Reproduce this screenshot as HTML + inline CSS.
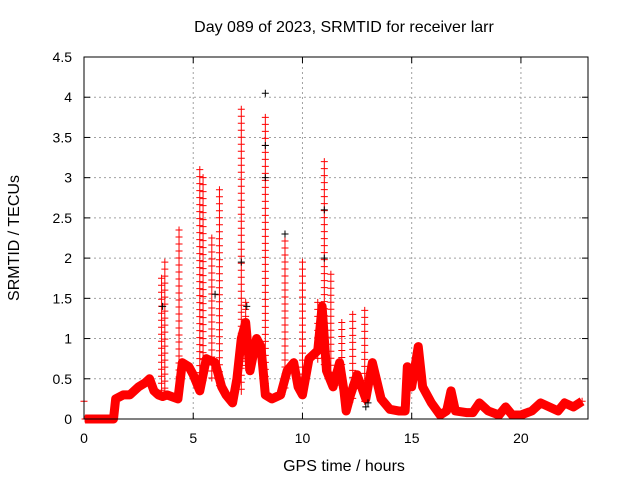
<!DOCTYPE html>
<html><head><meta charset="utf-8"><style>
body{margin:0;background:#fff}
svg{display:block;font-family:"Liberation Sans",sans-serif}
</style></head><body>
<svg id="chart" width="640" height="480">
<text x="344" y="32" font-size="16" text-anchor="middle">Day 089 of 2023, SRMTID for receiver larr</text>
<text x="344" y="471" font-size="16" text-anchor="middle">GPS time / hours</text>
<text transform="translate(19,238) rotate(-90)" font-size="16" text-anchor="middle">SRMTID / TECUs</text>
<g id="grid"></g><g id="ticks"></g><g id="marks"></g>
<rect x="84" y="57" width="504" height="362" fill="none" stroke="#000" stroke-width="1"/>
</svg>
<script>
const xTicks=[0,5,10,15,20];
const yTicks=[0,0.5,1,1.5,2,2.5,3,3.5,4,4.5];
const yTickLabels=["0","0.5","1","1.5","2","2.5","3","3.5","4","4.5"];
const baseT=[0,0.05,0.5,1.0,1.35,1.45,1.8,2.1,2.5,2.8,3.0,3.2,3.4,3.6,3.8,4.0,4.3,4.5,4.8,5.0,5.3,5.6,6.0,6.3,6.5,6.8,7.0,7.2,7.4,7.6,7.9,8.1,8.3,8.6,9.0,9.3,9.6,9.8,10.0,10.3,10.7,10.9,11.1,11.4,11.7,11.9,12.0,12.2,12.5,12.9,13.2,13.6,14.0,14.4,14.7,14.8,15.0,15.3,15.5,15.9,16.3,16.6,16.8,17.0,17.5,17.8,18.1,18.5,19.0,19.3,19.6,20.0,20.5,20.9,21.3,21.7,22.0,22.4,22.8];
const baseV=[0.22,0,0,0,0,0.25,0.3,0.3,0.4,0.45,0.5,0.35,0.3,0.28,0.3,0.28,0.25,0.7,0.65,0.55,0.35,0.75,0.7,0.4,0.3,0.2,0.5,1.0,1.2,0.6,1.0,0.9,0.3,0.25,0.3,0.6,0.7,0.4,0.3,0.75,0.85,1.4,0.6,0.4,0.7,0.35,0.1,0.3,0.55,0.25,0.7,0.25,0.12,0.1,0.1,0.65,0.4,0.9,0.4,0.2,0.05,0.1,0.35,0.1,0.08,0.08,0.2,0.1,0.05,0.15,0.05,0.05,0.1,0.2,0.15,0.1,0.2,0.15,0.22];
const spikeT=[3.55,3.7,4.35,5.3,5.45,5.85,6.2,7.2,7.4,8.3,9.2,10.0,10.7,11.0,11.3,11.8,12.3,12.85];
const spikeBase=[0.3,0.3,0.3,0.4,0.4,0.5,0.4,0.3,0.6,0.3,0.3,0.3,0.7,0.6,0.5,0.4,0.2,0.2];
const spikePeak=[1.75,1.95,2.35,3.1,3.0,2.25,2.85,3.85,1.45,3.75,2.3,1.95,1.45,3.2,1.8,1.2,1.3,1.35];
const blackT=[8.3,8.3,8.3,7.2,11.0,11.0,9.2,7.45,3.6,6.0,12.9,13.0];
const blackV=[4.05,3.4,3.0,1.95,2.6,2.0,2.3,1.4,1.4,1.55,0.15,0.2];
const NS="http://www.w3.org/2000/svg";
const X0=84,X1=588,Y0=419,Y1=57,XMAX=23.07,YMAX=4.5;
function sx(t){return X0+t/XMAX*(X1-X0);}
function sy(v){return Y0-v/YMAX*(Y0-Y1);}
function mk(tag,attrs,parent){const e=document.createElementNS(NS,tag);for(const k in attrs)e.setAttribute(k,attrs[k]);parent.appendChild(e);return e;}
const grid=document.getElementById('grid'),ticks=document.getElementById('ticks'),marks=document.getElementById('marks');
yTicks.forEach((v,i)=>{const y=sy(v);
 if(i>0&&i<yTicks.length-1){const g=mk('line',{x1:X0,x2:X1,y1:y,y2:y,stroke:'#a0a0a0','stroke-dasharray':'2,3'},grid);
 
 }
 mk('line',{x1:X0,x2:X0+6,y1:y,y2:y,stroke:'#000'},ticks);
 mk('line',{x1:X1,x2:X1-6,y1:y,y2:y,stroke:'#000'},ticks);
 const t=mk('text',{x:72,y:y+5,'font-size':14,'text-anchor':'end'},ticks);t.textContent=yTickLabels[i];
 
 });
xTicks.forEach(v=>{const x=sx(v);
 if(v>0){const g=mk('line',{x1:x,x2:x,y1:Y0,y2:Y1,stroke:'#a0a0a0','stroke-dasharray':'2,3'},grid);
 
 }
 mk('line',{x1:x,x2:x,y1:Y0,y2:Y0-6,stroke:'#000'},ticks);
 mk('line',{x1:x,x2:x,y1:Y1,y2:Y1+6,stroke:'#000'},ticks);
 const t=mk('text',{x:x,y:443,'font-size':14,'text-anchor':'middle'},ticks);t.textContent=String(v);
 
 });
function cross(x,y){return 'M'+(x-3.5)+' '+y+'h7M'+x+' '+(y-3.5)+'v7';}
let pts=baseT.slice(1).map((t,i)=>sx(t)+','+sy(baseV[i+1])).join(' ');
const bl=mk('polyline',{points:pts,fill:'none',stroke:'#ff0000','stroke-width':9,'stroke-linejoin':'round'},marks);


let d='';
baseT.forEach((t,i)=>{d+=cross(sx(t),sy(baseV[i]));});
const bp=mk('path',{d:d,stroke:'#ff0000','stroke-width':1,fill:'none'},marks);


spikeT.forEach((t,i)=>{const x=sx(t),yb=sy(spikeBase[i]),yp=sy(spikePeak[i]);
 let dd='M'+x+' '+yb+'V'+yp;
 for(let y=yp;y<yb;y+=7)dd+=cross(x,y);
 dd+=cross(x,yp);
 const s=mk('path',{d:dd,stroke:'#ff0000','stroke-width':1,fill:'none'},marks);
 
 });
let db='';
blackT.forEach((t,i)=>{db+=cross(sx(t),sy(blackV[i]));});
const bk=mk('path',{d:db,stroke:'#000','stroke-width':1,fill:'none'},marks);


</script>
</body></html>
